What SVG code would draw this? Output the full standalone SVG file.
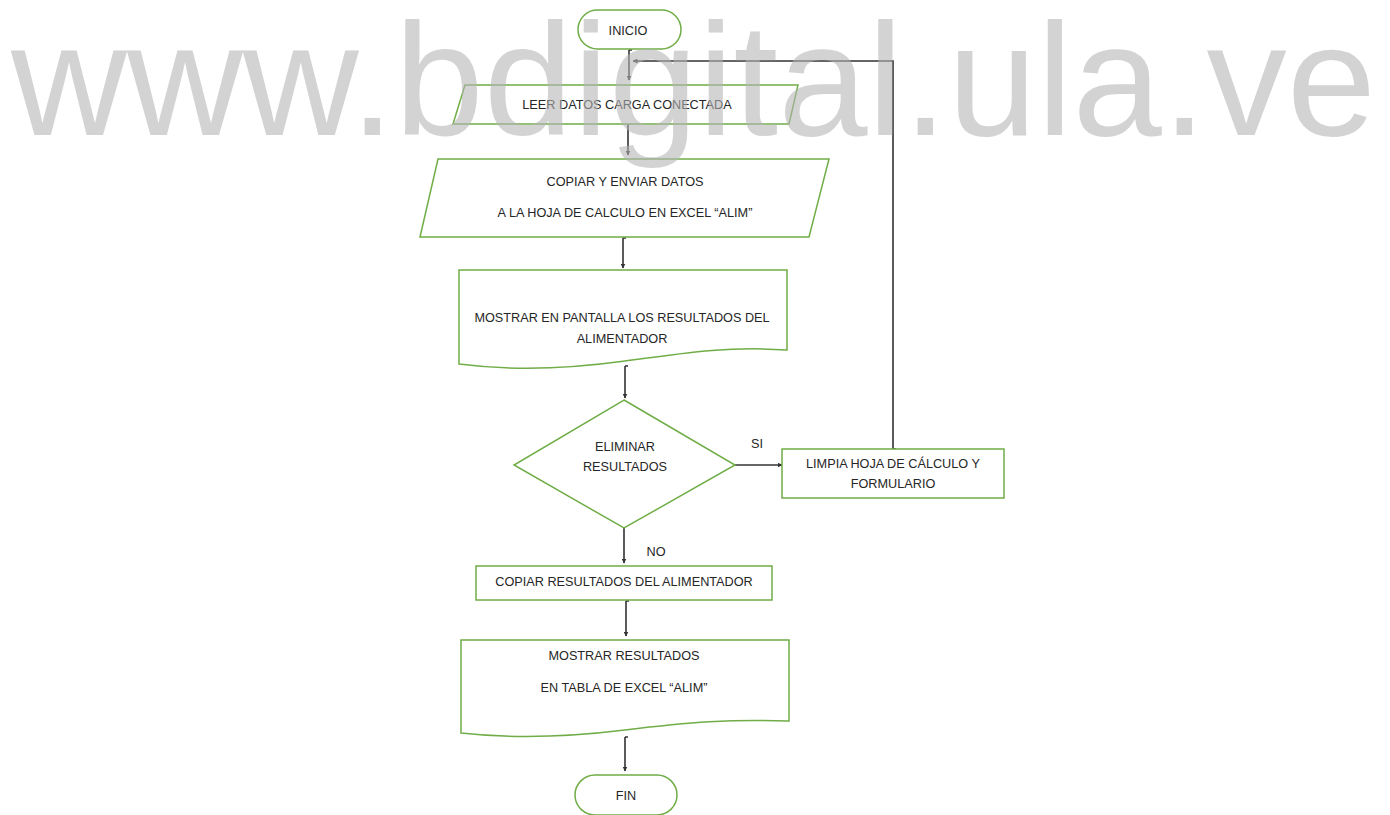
<svg xmlns="http://www.w3.org/2000/svg" width="1390" height="815" viewBox="0 0 1390 815">
<style>
.shape{fill:#ffffff;stroke:#70ad47;stroke-width:1.5}
.t{font-family:"Liberation Sans",Arial,sans-serif;font-size:12.7px;fill:#262626;text-anchor:middle}
.c{fill:none;stroke:#333333;stroke-width:1.6}
.wm{font-family:"Liberation Sans",Arial,sans-serif;font-size:160px;fill:#b4b4b4;fill-opacity:0.59}
</style>
<defs>
<marker id="ah" viewBox="0 0 10 10" refX="9" refY="5" markerWidth="5" markerHeight="5" orient="auto" markerUnits="userSpaceOnUse">
<path d="M0,0 L10,5 L0,10 Z" fill="#333333"/>
</marker>
</defs>
<rect width="1390" height="815" fill="#ffffff"/>

<g id="connectors">
<path class="c" d="M629,50 H632 M629,50 V80" marker-end="url(#ah)"/>
<path class="c" d="M893,449 H896 M893,449 V61 H633" marker-end="url(#ah)"/>
<path class="c" d="M628,124 V155" marker-end="url(#ah)"/>
<path class="c" d="M623,238 H626 M623,238 V268" marker-end="url(#ah)"/>
<path class="c" d="M625,366 H628 M625,366 V398" marker-end="url(#ah)"/>
<path class="c" d="M735,465 H782" marker-end="url(#ah)"/>
<path class="c" d="M624,528 V563" marker-end="url(#ah)"/>
<path class="c" d="M626,601 H629 M626,601 V636" marker-end="url(#ah)"/>
<path class="c" d="M625,737 H628 M625,737 V771" marker-end="url(#ah)"/>
<text class="t" x="757" y="448">SI</text>
<text class="t" x="656" y="556">NO</text>
</g>

<g id="inicio">
<rect class="shape" x="578" y="10" width="103" height="39" rx="19.5"/>
<text class="t" x="628" y="35">INICIO</text>
</g>

<g id="leer">
<polygon class="shape" points="465,85 798,85 789,124 453,124"/>
<text class="t" x="627" y="109">LEER DATOS CARGA CONECTADA</text>
</g>

<g id="copiar">
<polygon class="shape" points="438,159 829,159 809,237 420,237"/>
<text class="t" x="625" y="186">COPIAR Y ENVIAR DATOS</text>
<text class="t" x="625" y="217">A LA HOJA DE CALCULO EN EXCEL “ALIM”</text>
</g>

<g id="mostrar">
<path class="shape" d="M459,270 H787 V350 C730,346 690,352 625,361 C560,370 505,370 459,364 Z"/>
<text class="t" x="622" y="322">MOSTRAR EN PANTALLA LOS RESULTADOS DEL</text>
<text class="t" x="622" y="343">ALIMENTADOR</text>
</g>

<g id="eliminar">
<polygon class="shape" points="624,400 735,465 624,528 514,465"/>
<text class="t" x="625" y="451">ELIMINAR</text>
<text class="t" x="625" y="471">RESULTADOS</text>
</g>

<g id="limpia">
<rect class="shape" x="782" y="449" width="222" height="49"/>
<text class="t" x="893" y="468">LIMPIA HOJA DE CÁLCULO  Y</text>
<text class="t" x="893" y="488">FORMULARIO</text>
</g>

<g id="copiar-resultados">
<rect class="shape" x="476" y="566" width="296" height="34"/>
<text class="t" x="624" y="586">COPIAR RESULTADOS DEL ALIMENTADOR</text>
</g>

<g id="mostrar-resultados">
<path class="shape" d="M461,640 H789 V721 C730,719 690,722 625,730 C560,738 505,738 461,733 Z"/>
<text class="t" x="624" y="660">MOSTRAR RESULTADOS</text>
<text class="t" x="624" y="692">EN TABLA DE EXCEL “ALIM”</text>
</g>

<g id="fin">
<rect class="shape" x="575" y="775" width="102" height="40" rx="20"/>
<text class="t" x="626" y="800">FIN</text>
</g>

<text class="wm" x="11" y="135" textLength="1365" lengthAdjust="spacingAndGlyphs">www.bdigital.ula.ve</text>
</svg>
